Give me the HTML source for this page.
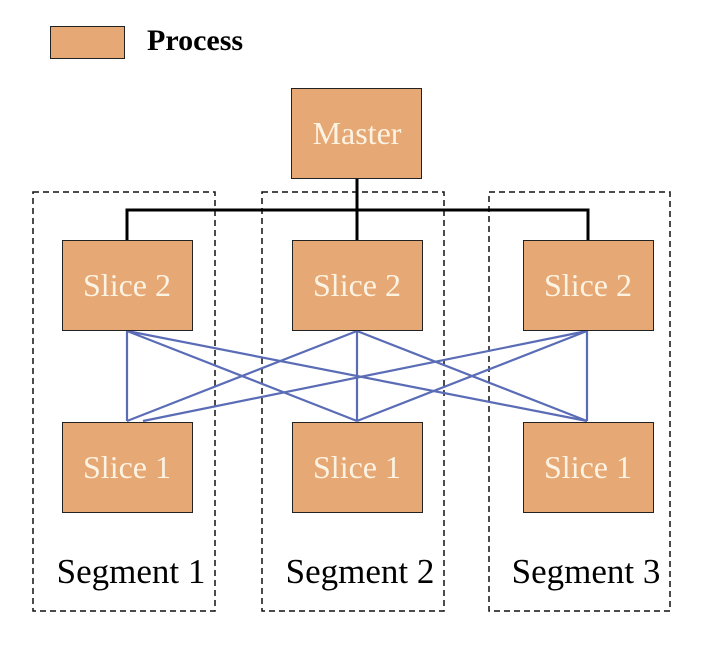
<!DOCTYPE html>
<html><head><style>
body{margin:0;background:#fff;}
</style></head><body>
<svg width="702" height="648" xmlns="http://www.w3.org/2000/svg" style="display:block;font-family:'Liberation Serif',serif">
<rect x="50.5" y="26.5" width="74" height="32" fill="#e6a874" stroke="#222"/>
<text x="147" y="50" font-size="30" font-weight="bold" fill="#000">Process</text>
<g fill="none" stroke="#111" stroke-width="1.5" stroke-dasharray="6,4">
<rect x="33" y="192" width="182" height="419"/>
<rect x="262" y="192" width="182" height="419"/>
<rect x="489" y="192" width="181" height="419"/>
</g>
<g stroke="#000" stroke-width="3" fill="none">
<line x1="357" y1="178" x2="357" y2="240"/>
<polyline points="127,240 127,210 588,210 588,240"/>
</g>
<g stroke="#5a6cb6" stroke-width="2.2">
<line x1="127" y1="331" x2="127" y2="421"/>
<line x1="127" y1="331" x2="357" y2="421"/>
<line x1="127" y1="331" x2="587" y2="421"/>
<line x1="357" y1="331" x2="127" y2="421"/>
<line x1="357" y1="331" x2="357" y2="421"/>
<line x1="357" y1="331" x2="587" y2="421"/>
<line x1="587" y1="331" x2="143" y2="421"/>
<line x1="587" y1="331" x2="357" y2="421"/>
<line x1="587" y1="331" x2="587" y2="421"/>
</g>
<g fill="#e6a874" stroke="#222" stroke-width="1">
<rect x="291.5" y="88.5" width="130" height="90"/>
<rect x="62.5" y="240.5" width="130" height="90"/>
<rect x="292.5" y="240.5" width="130" height="90"/>
<rect x="523.5" y="240.5" width="130" height="90"/>
<rect x="62.5" y="422.5" width="130" height="90"/>
<rect x="292.5" y="422.5" width="130" height="90"/>
<rect x="523.5" y="422.5" width="130" height="90"/>
</g>
<g fill="#fdf3e3" font-size="32" text-anchor="middle">
<text x="357" y="144">Master</text>
<text x="127" y="296">Slice 2</text>
<text x="357" y="296">Slice 2</text>
<text x="588" y="296">Slice 2</text>
<text x="127" y="478">Slice 1</text>
<text x="357" y="478">Slice 1</text>
<text x="588" y="478">Slice 1</text>
</g>
<g fill="#000" font-size="35" text-anchor="middle">
<text x="131" y="583">Segment 1</text>
<text x="360" y="583">Segment 2</text>
<text x="586" y="583">Segment 3</text>
</g>
</svg>
</body></html>
